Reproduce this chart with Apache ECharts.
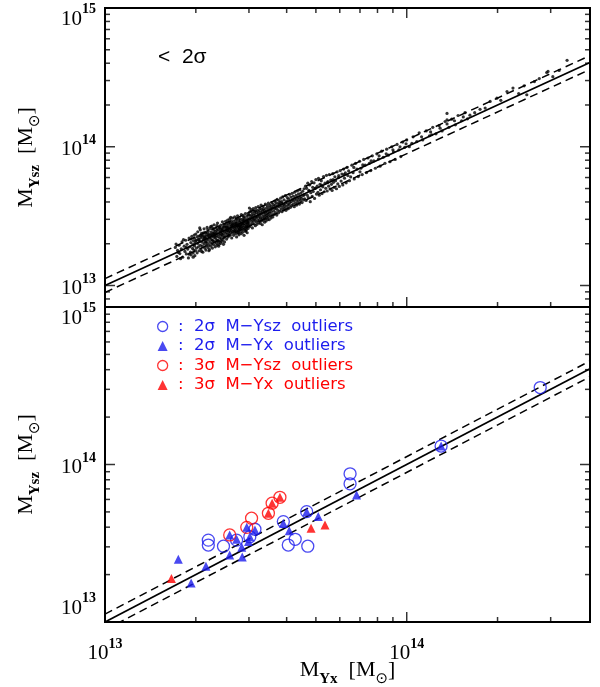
<!DOCTYPE html>
<html><head><meta charset="utf-8">
<script src="https://cdn.jsdelivr.net/npm/echarts@6/dist/echarts.min.js"></script>
<style>html,body{margin:0;padding:0;background:#fff}#c{width:600px;height:687px}</style>
</head><body><div id="c"></div>
<script>
// All masses below are in units of 1e13 M_sun
const UNIT = 1e13;

// Top panel: clusters within 2 sigma  [M_Yx, M_Ysz]
const inliers = [
[1.71,1.88],[1.73,1.62],[1.74,1.79],[1.76,1.95],[1.77,1.70],[1.79,1.84],[1.80,2.06],[1.81,1.60],[1.83,1.92],[1.84,1.76],[1.85,2.12],[1.86,1.69],[1.87,1.98],[1.88,1.83],[1.89,1.58],[1.90,2.20],[1.91,1.90],[1.92,1.74],[1.925,2.04],[1.93,1.66],[1.94,2.26],[1.95,1.85],[1.955,1.97],[1.96,1.72],[1.965,2.10],[1.97,1.80],[1.975,2.31],[1.98,1.93],[1.985,1.64],[1.99,2.02],[1.995,1.78],[1.72,1.99],[1.78,1.56],[1.82,2.14],[1.86,1.88],[1.90,1.68],[1.93,2.16],[1.96,1.60],[1.98,2.19],[1.75,1.73],
[2.00,2.35],[2.01,1.86],[2.01,2.12],[2.02,1.72],[2.03,2.44],[2.03,2.01],[2.04,1.90],[2.05,2.27],[2.05,1.78],[2.06,2.08],[2.07,2.52],[2.07,1.95],[2.08,1.83],[2.08,2.20],[2.09,2.38],[2.10,1.92],[2.10,2.05],[2.11,1.74],[2.11,2.30],[2.12,2.14],[2.13,2.56],[2.13,1.99],[2.14,1.86],[2.14,2.24],[2.15,2.42],[2.15,2.07],[2.16,1.80],[2.16,2.33],[2.17,2.16],[2.17,1.95],[2.18,2.62],[2.18,2.02],[2.19,2.27],[2.19,1.88],[2.20,2.47],[2.20,2.12],[2.21,1.96],[2.21,2.36],[2.22,1.82],[2.22,2.20],[2.23,2.58],[2.23,2.05],[2.24,2.31],[2.24,1.92],[2.25,2.44],[2.25,2.15],[2.26,2.00],[2.26,2.68],[2.27,2.26],[2.27,1.86],[2.28,2.38],[2.28,2.10],[2.29,2.52],[2.29,1.97],[2.30,2.22],[2.30,2.74],[2.31,2.06],[2.31,2.33],[2.32,1.90],[2.32,2.46],[2.33,2.16],[2.33,2.60],[2.34,2.02],[2.34,2.28],[2.35,1.95],[2.35,2.40],[2.36,2.12],[2.36,2.82],[2.37,2.25],[2.37,2.54],[2.38,2.06],[2.38,2.35],[2.39,1.98],[2.39,2.66],[2.40,2.20],[2.40,2.45],[2.41,2.10],[2.41,2.30],[2.42,2.72],[2.42,2.02],[2.43,2.38],[2.43,2.18],[2.44,2.56],[2.44,2.08],[2.45,2.28],[2.45,2.88],[2.46,2.15],[2.46,2.48],[2.47,1.98],[2.47,2.36],[2.48,2.62],[2.48,2.22],[2.49,2.44],[2.49,2.06],[2.02,2.25],[2.06,2.60],[2.09,1.76],[2.12,2.40],[2.16,2.06],[2.19,2.52],[2.21,1.78],[2.24,2.66],[2.27,2.12],[2.29,2.34],[2.32,2.24],[2.35,2.70],[2.38,1.92],[2.41,2.56],[2.44,2.34],[2.47,2.76],[2.04,2.16],[2.07,2.28],[2.13,2.19],[2.18,2.40],[2.23,2.24],[2.28,2.58],[2.33,2.36],[2.37,2.10],[2.42,2.46],[2.46,2.64],[2.00,2.10],[2.05,2.14],[2.10,2.26],[2.15,2.23],[2.20,2.30],[2.25,2.34],[2.30,2.40],[2.35,2.50],[2.40,2.62],[2.45,2.52],
[2.50,2.70],[2.50,2.28],[2.51,2.52],[2.51,2.90],[2.52,2.40],[2.52,2.62],[2.53,2.16],[2.53,2.78],[2.54,2.48],[2.54,2.34],[2.55,2.96],[2.55,2.58],[2.56,2.24],[2.56,2.70],[2.57,2.44],[2.57,2.84],[2.58,2.36],[2.58,2.60],[2.59,3.02],[2.59,2.50],[2.60,2.30],[2.60,2.76],[2.61,2.56],[2.61,2.42],[2.62,2.92],[2.62,2.66],[2.63,2.20],[2.63,2.50],[2.64,2.82],[2.64,2.38],[2.65,2.62],[2.65,3.06],[2.66,2.46],[2.66,2.72],[2.67,2.30],[2.67,2.90],[2.68,2.58],[2.68,2.42],[2.69,2.78],[2.69,3.12],[2.70,2.52],[2.70,2.66],[2.71,2.36],[2.71,2.96],[2.72,2.62],[2.72,2.80],[2.73,2.46],[2.73,2.24],[2.74,2.88],[2.74,2.70],[2.75,2.54],[2.75,3.18],[2.76,2.40],[2.76,2.76],[2.77,2.64],[2.77,2.98],[2.78,2.50],[2.78,2.32],[2.79,2.86],[2.79,2.70],[2.80,2.58],[2.80,3.04],[2.81,2.44],[2.81,2.92],[2.82,2.74],[2.82,2.60],[2.83,3.24],[2.83,2.36],[2.84,2.82],[2.84,2.66],[2.85,2.52],[2.85,3.00],[2.86,2.76],[2.86,2.42],[2.87,2.92],[2.87,2.62],[2.88,3.12],[2.88,2.54],[2.89,2.80],[2.89,2.30],[2.90,2.70],[2.90,3.06],[2.91,2.58],[2.91,2.88],[2.92,2.46],[2.92,3.30],[2.93,2.76],[2.93,2.64],[2.94,2.96],[2.94,2.52],[2.95,2.84],[2.95,3.16],[2.96,2.68],[2.96,2.40],[2.97,3.02],[2.97,2.78],[2.98,2.58],[2.98,2.92],[2.99,3.22],[2.99,2.70],[2.53,2.64],[2.57,2.30],[2.61,3.10],[2.65,2.76],[2.69,2.48],[2.73,3.04],[2.77,2.38],[2.81,2.70],[2.85,2.80],[2.89,2.96],[2.93,2.48],[2.97,2.86],[2.55,2.50],[2.63,2.70],[2.71,2.80],[2.79,2.56],[2.87,3.20],[2.95,2.62],[2.59,2.86],[2.75,2.68],
[3.00,2.82],[3.00,3.26],[3.01,3.04],[3.02,2.66],[3.02,3.40],[3.03,2.94],[3.04,3.14],[3.04,2.74],[3.05,3.52],[3.06,3.00],[3.06,3.22],[3.07,2.84],[3.08,3.34],[3.08,2.60],[3.09,3.08],[3.10,2.92],[3.10,3.58],[3.11,3.20],[3.12,2.78],[3.12,3.02],[3.13,3.42],[3.14,2.96],[3.14,3.28],[3.15,2.70],[3.16,3.12],[3.16,3.64],[3.17,2.88],[3.18,3.36],[3.18,3.06],[3.19,2.76],[3.20,3.48],[3.20,3.18],[3.21,2.94],[3.22,3.30],[3.22,3.70],[3.23,2.84],[3.24,3.12],[3.24,3.44],[3.25,2.98],[3.26,3.58],[3.26,3.24],[3.27,2.80],[3.28,3.38],[3.28,3.08],[3.29,3.80],[3.30,2.92],[3.30,3.28],[3.31,3.54],[3.32,3.02],[3.32,2.74],[3.33,3.44],[3.34,3.16],[3.34,3.72],[3.35,2.96],[3.36,3.34],[3.36,3.58],[3.37,3.08],[3.38,2.86],[3.38,3.48],[3.39,3.24],[3.40,3.86],[3.40,3.04],[3.41,3.40],[3.42,3.18],[3.42,2.92],[3.43,3.62],[3.44,3.30],[3.44,3.10],[3.45,3.76],[3.46,3.00],[3.46,3.50],[3.47,3.26],[3.48,3.92],[3.48,3.14],[3.49,3.40],[3.50,2.98],[3.50,3.64],[3.51,3.32],[3.52,3.80],[3.53,3.18],[3.54,3.52],[3.55,3.06],[3.56,3.70],[3.56,3.40],[3.57,3.96],[3.58,3.24],[3.59,3.60],[3.60,3.12],[3.01,3.62],[3.15,3.46],
[3.61,3.84],[3.62,3.44],[3.63,3.70],[3.64,3.26],[3.65,4.06],[3.66,3.56],[3.67,3.80],[3.68,3.36],[3.69,3.96],[3.70,3.60],[3.71,3.22],[3.72,4.18],[3.73,3.74],[3.74,3.48],[3.75,3.90],[3.76,3.34],[3.77,4.10],[3.78,3.68],[3.79,3.86],[3.80,3.44],[3.82,4.26],[3.83,3.76],[3.84,3.56],[3.85,4.02],[3.86,3.40],[3.87,3.90],[3.88,4.36],[3.89,3.66],[3.90,3.84],[3.91,3.50],[3.92,4.14],[3.94,3.78],[3.95,3.60],[3.96,4.44],[3.97,3.94],[3.98,3.48],[4.00,4.06],[4.01,3.72],[4.02,4.30],[4.04,3.88],[4.05,3.58],[4.06,4.20],[4.08,3.80],[4.09,4.54],[4.10,3.96],[4.12,3.66],[4.13,4.34],[4.14,4.02],[4.16,3.76],[4.17,4.62],[4.18,4.16],[4.20,3.84],[4.21,4.40],[4.22,4.06],[4.24,3.70],[4.25,4.70],[4.26,4.24],[4.28,3.92],[4.30,4.46],[4.31,4.12],[4.32,3.80],[4.34,4.80],[4.35,4.30],[4.36,4.00],[4.38,4.56],[4.40,4.18],[4.41,3.86],[4.42,4.90],[4.44,4.36],[4.45,4.08],[4.46,4.64],[4.48,4.24],[4.50,3.96],[4.52,4.78],[4.54,4.44],[4.55,4.14],[4.57,4.98],[4.58,4.52],[4.59,4.22],[3.81,3.98],
[4.62,5.20],[4.64,4.10],[4.66,5.02],[4.68,4.48],[4.70,5.46],[4.72,4.30],[4.75,4.82],[4.77,5.30],[4.79,4.02],[4.81,4.66],[4.84,5.62],[4.86,4.40],[4.88,5.10],[4.90,4.76],[4.93,5.50],[4.95,4.24],[4.97,5.00],[5.00,5.80],[5.02,4.56],[5.05,5.20],[5.08,4.70],[5.10,5.92],[5.13,4.48],[5.16,5.36],[5.18,4.90],[5.21,5.68],[5.24,4.60],[5.27,5.14],[5.30,6.10],[5.33,4.74],[5.36,5.46],[5.39,5.02],[5.42,6.22],[5.45,4.80],[5.48,5.60],[5.51,5.20],[5.54,6.30],[5.57,4.96],[5.60,5.76],[5.63,5.36],[5.66,4.84],[5.69,6.40],[5.72,5.54],[5.75,5.10],[5.78,6.08],[5.81,5.70],[5.85,4.98],[5.88,6.60],[5.91,5.40],[5.95,6.20],[5.98,5.18],[6.02,6.74],[6.06,5.66],[6.10,6.36],[6.14,5.30],[6.18,6.90],[6.22,5.94],[6.26,6.48],[6.30,5.50],[6.34,7.10],[6.38,6.20],[6.42,6.70],[6.46,5.70],[4.74,4.84],[4.98,5.04],[5.22,5.30],[5.46,5.52],[5.70,5.80],[5.94,6.00],[6.20,6.30],
[6.52,6.06],[6.58,7.36],[6.64,6.50],[6.70,5.86],[6.77,7.60],[6.84,6.90],[6.91,6.10],[6.98,7.86],[7.05,7.00],[7.12,6.30],[7.20,8.10],[7.28,7.36],[7.36,6.52],[7.44,8.30],[7.52,7.60],[7.60,6.74],[7.69,8.60],[7.78,7.90],[7.87,7.00],[7.96,8.90],[8.06,8.16],[8.16,7.24],[8.26,9.30],[8.36,8.40],[8.47,7.60],[8.58,9.60],[8.69,8.70],[8.80,7.80],[8.92,10.0],[9.04,9.20],[9.16,8.10],[9.29,10.4],[9.42,9.50],[9.56,8.50],[9.70,10.8],[9.85,9.90],[6.68,7.10],[7.15,7.40],[7.62,7.90],[8.10,8.60],[8.55,8.90],[9.00,9.50],[9.50,10.0],[9.95,10.5],[7.00,6.60],
[10.0,11.2],[10.2,10.0],[10.5,11.8],[10.8,10.9],[11.0,12.6],[11.3,11.2],[11.6,13.0],[11.9,12.0],[12.2,13.8],[12.5,12.4],[12.8,14.2],[13.1,13.0],[13.4,15.2],[13.8,13.8],[14.1,15.8],[14.5,14.4],[14.8,16.8],[15.2,15.4],[15.6,17.6],[15.9,15.9],[10.4,10.6],[11.2,11.8],[12.0,12.8],[12.9,13.6],[13.6,14.6],[14.4,15.4],[15.4,16.4],[12.1,12.2],
[16.2,16.9],[16.8,17.6],[17.5,18.6],[18.2,19.0],[18.9,21.2],[19.9,22.4],[20.5,21.6],[21.5,25.0],[22.5,26.5],[23.5,24.2],[24.5,27.5],[25.0,23.7],[26.5,29.5],[27.5,31.0],[29.1,34.3],[29.4,34.9],[30.5,32.0],[32.0,35.5],[34.0,42.0],[13.6,17.4],[13.6,15.6]
];

// Bottom panel outliers [M_Yx, M_Ysz]
const blue2sYszOutliers = [[2.20,3.31],[2.20,3.08],[2.47,3.03],[2.73,3.31],[3.02,3.48],[3.14,3.88],[3.90,4.34],[4.27,3.35],[4.05,3.08],[4.70,3.03],[4.66,5.02],[6.49,8.73],[6.49,7.54],[13.0,13.1],[27.7,30.8]];
const blue2sYxOutliers = [[1.75,2.50],[2.16,2.26],[1.93,1.77],[2.59,2.66],[2.85,2.59],[2.84,2.98],[2.99,3.24],[2.73,3.35],[2.59,3.57],[2.95,3.99],[3.14,3.84],[3.90,4.24],[4.08,3.80],[4.66,5.02],[5.09,4.67],[6.82,6.41],[3.02,3.48],[13.0,13.1]];
const red3sYszOutliers = [[2.59,3.57],[2.95,3.99],[3.06,4.56],[3.48,4.90],[3.58,5.68],[3.80,6.19]];
const red3sYxOutliers = [[1.66,1.89],[4.82,3.94],[5.36,4.13],[3.48,4.90],[3.58,5.68],[3.80,6.19]];

// Axis ranges and ticks (M_sun)
const X_RANGE = [1e13, 4.05e14];
const Y_RANGE_TOP = [7e12, 1e15];
const Y_RANGE_BOTTOM = [1e13, 1e15];
const xMajorTicks = [1e13, 1e14];
const xMinorTicks = [2e13,3e13,4e13,5e13,6e13,7e13,8e13,9e13,2e14,3e14];
const yMajorTicksTop = [1e13, 1e14];
const yMajorTicksBottom = [1e14];
const yMinorTicksTop = [8e12,9e12,2e13,3e13,4e13,5e13,6e13,7e13,8e13,9e13,2e14,3e14,4e14,5e14,6e14,7e14,8e14,9e14];
const yMinorTicksBottom = [2e13,3e13,4e13,5e13,6e13,7e13,8e13,9e13,2e14,3e14,4e14,5e14,6e14,7e14,8e14,9e14];

// Relation: solid 1:1 line and dashed band
const relationX = [1e13, 4.05e14];
const relationFactors = [1, 1.122, 0.891];

const LEG = [' :  2σ  M−Ysz  outliers', ' :  2σ  M−Yx  outliers', ' :  3σ  M−Ysz  outliers', ' :  3σ  M−Yx  outliers'];
const BLUE = '#1c1cee', RED = '#ff0000';
const toMass = p => [p[0]*UNIT, p[1]*UNIT];

const SERIF = 'Liberation Serif';
const labelRich = {
  b: {fontSize: 21, fontFamily: SERIF, color: '#000', lineHeight: 27, verticalAlign: 'bottom'},
  e: {fontSize: 14, fontFamily: SERIF, fontWeight: 'bold', color: '#000', lineHeight: 14, verticalAlign: 'top'},
  dn: {fontSize: 2, lineHeight: 16},
  up: {fontSize: 2, lineHeight: 34}
};
function expOf(v) { const l = Math.log10(v); return Math.abs(l - Math.round(l)) < 1e-6 ? Math.round(l) : null; }
const pw = e => '{b|10}{e|' + e + '}';
const xLabel = v => { const e = expOf(v); return e === null ? '' : pw(e); };
const yLabelTop = v => { const e = expOf(v); if (e === null) return ''; return e === 15 ? '{dn| }\n' + pw(e) : pw(e); };
const yLabelBottom = v => {
  const e = expOf(v); if (e === null) return '';
  if (e === 15) return '{dn| }\n' + pw(e);
  if (e === 13) return pw(e) + '\n{up| }';
  return pw(e);
};
const nameRich = {
  m: {fontSize: 22, fontFamily: SERIF, color: '#000', lineHeight: 28, verticalAlign: 'top'},
  s: {fontSize: 15, fontFamily: SERIF, fontWeight: 'bold', color: '#000', lineHeight: 15, verticalAlign: 'bottom'},
  o: {fontSize: 15, fontFamily: 'DejaVu Sans', color: '#000', lineHeight: 15, verticalAlign: 'bottom'}
};

function xAxisFor(g, showLabels) {
  const ax = {type: 'log', gridIndex: g, min: X_RANGE[0], max: X_RANGE[1], splitLine: {show: false},
    axisLine: {show: false, onZero: false}, axisTick: {show: false}, axisLabel: {show: false}};
  if (showLabels) {
    ax.axisLabel = {show: true, formatter: xLabel, rich: labelRich, margin: 15, showMinLabel: true, showMaxLabel: true};
    ax.name = '{m|M}{s|Yx}{m|  [M}{o|⊙}{m|]}';
    ax.nameLocation = 'middle';
    ax.nameGap = 37;
    ax.nameMoveOverlap = false;
    ax.nameTextStyle = {rich: nameRich};
  }
  return ax;
}
function yAxisFor(g, range, fmt) {
  return {type: 'log', gridIndex: g, min: range[0], max: range[1], splitLine: {show: false},
    axisLine: {show: false, onZero: false}, axisTick: {show: false},
    axisLabel: {show: true, formatter: fmt, rich: labelRich, margin: 9, showMinLabel: true, showMaxLabel: true},
    name: '{m|M}{s|Ysz}{m|  [M}{o|⊙}{m|]}', nameLocation: 'middle', nameRotate: 90, nameGap: 62,
    nameTextStyle: {rich: nameRich}};
}

// tick marks drawn through the axes' own log scales
function tickMarks(ai, values, fixed, isX, len, dir) {
  return {type: 'scatter', xAxisIndex: ai, yAxisIndex: ai, silent: true, clip: false, symbol: 'rect',
    symbolSize: isX ? [1.5, len] : [len, 1.5],
    symbolOffset: isX ? [0, -dir * len / 2] : [dir * len / 2, 0],
    itemStyle: {color: '#000'}, z: 10,
    data: values.map(v => isX ? [v, fixed] : [fixed, v])};
}
function panelTicks(ai, yRange, yMajor, yMinor, topTicks) {
  const s = [
    tickMarks(ai, xMajorTicks, yRange[0], true, 10, 1),
    tickMarks(ai, xMinorTicks, yRange[0], true, 5, 1),
    tickMarks(ai, yMajor, X_RANGE[0], false, 10, 1),
    tickMarks(ai, yMinor, X_RANGE[0], false, 5, 1),
    tickMarks(ai, yMajor, X_RANGE[1], false, 10, -1),
    tickMarks(ai, yMinor, X_RANGE[1], false, 5, -1)
  ];
  if (topTicks) {
    s.push(tickMarks(ai, xMajorTicks, yRange[1], true, 10, -1));
    s.push(tickMarks(ai, xMinorTicks, yRange[1], true, 5, -1));
  }
  return s;
}

function relationSeries(ai) {
  return relationFactors.map((f, i) => ({
    type: 'line', xAxisIndex: ai, yAxisIndex: ai, symbol: 'none', silent: true, clip: true,
    data: relationX.map(x => [x, x * f]),
    lineStyle: {color: '#000', width: i === 0 ? 1.8 : 1.5, type: i === 0 ? 'solid' : [8, 5]}, z: 3
  }));
}

const gridBase = {left: 105, width: 485, show: true, borderColor: '#000', borderWidth: 2, backgroundColor: 'transparent',
  containLabel: false, outerBoundsMode: 'none'};

const chart = echarts.init(document.getElementById('c'), null, {renderer: 'canvas'});
chart.setOption({
  animation: false,
  backgroundColor: '#fff',
  grid: [
    Object.assign({}, gridBase, {top: 8, height: 299}),
    Object.assign({}, gridBase, {top: 307, height: 315})
  ],
  xAxis: [xAxisFor(0, false), xAxisFor(1, true)],
  yAxis: [yAxisFor(0, Y_RANGE_TOP, yLabelTop), yAxisFor(1, Y_RANGE_BOTTOM, yLabelBottom)],
  legend: {
    left: 152, top: 313, orient: 'vertical', itemWidth: 10, itemHeight: 10, itemGap: 2.5, selectedMode: false,
    textStyle: {fontFamily: 'DejaVu Sans', fontSize: 16.5},
    data: [
      {name: LEG[0], icon: 'circle', itemStyle: {color: 'rgba(0,0,0,0)', borderColor: BLUE, borderWidth: 1.3}, textStyle: {color: BLUE}},
      {name: LEG[1], icon: 'triangle', itemStyle: {color: BLUE, borderWidth: 0}, textStyle: {color: BLUE}},
      {name: LEG[2], icon: 'circle', itemStyle: {color: 'rgba(0,0,0,0)', borderColor: RED, borderWidth: 1.3}, textStyle: {color: RED}},
      {name: LEG[3], icon: 'triangle', itemStyle: {color: RED, borderWidth: 0}, textStyle: {color: RED}}
    ]
  },
  graphic: [
    {type: 'text', x: 158, y: 57, style: {text: '<  2σ', fill: '#000', font: '21px "Liberation Sans"', textVerticalAlign: 'middle', verticalAlign: 'middle'}}
  ],
  series: [
    {type: 'scatter', xAxisIndex: 0, yAxisIndex: 0, symbol: 'circle', symbolSize: 3.2, silent: true,
      itemStyle: {color: '#000'}, data: inliers.map(toMass), z: 2},
    ...relationSeries(0),
    ...relationSeries(1),
    ...panelTicks(0, Y_RANGE_TOP, yMajorTicksTop, yMinorTicksTop, true),
    ...panelTicks(1, Y_RANGE_BOTTOM, yMajorTicksBottom, yMinorTicksBottom, false),
    {name: LEG[0], type: 'scatter', xAxisIndex: 1, yAxisIndex: 1, symbol: 'circle', symbolSize: 12,
      itemStyle: {color: 'rgba(0,0,0,0)', borderColor: BLUE, borderWidth: 1.3}, data: blue2sYszOutliers.map(toMass), z: 4},
    {name: LEG[1], type: 'scatter', xAxisIndex: 1, yAxisIndex: 1, symbol: 'triangle', symbolSize: 9,
      itemStyle: {color: BLUE}, data: blue2sYxOutliers.map(toMass), z: 5},
    {name: LEG[2], type: 'scatter', xAxisIndex: 1, yAxisIndex: 1, symbol: 'circle', symbolSize: 12,
      itemStyle: {color: 'rgba(0,0,0,0)', borderColor: RED, borderWidth: 1.3}, data: red3sYszOutliers.map(toMass), z: 4},
    {name: LEG[3], type: 'scatter', xAxisIndex: 1, yAxisIndex: 1, symbol: 'triangle', symbolSize: 9,
      itemStyle: {color: RED}, data: red3sYxOutliers.map(toMass), z: 6}
  ]
});
</script></body></html>
